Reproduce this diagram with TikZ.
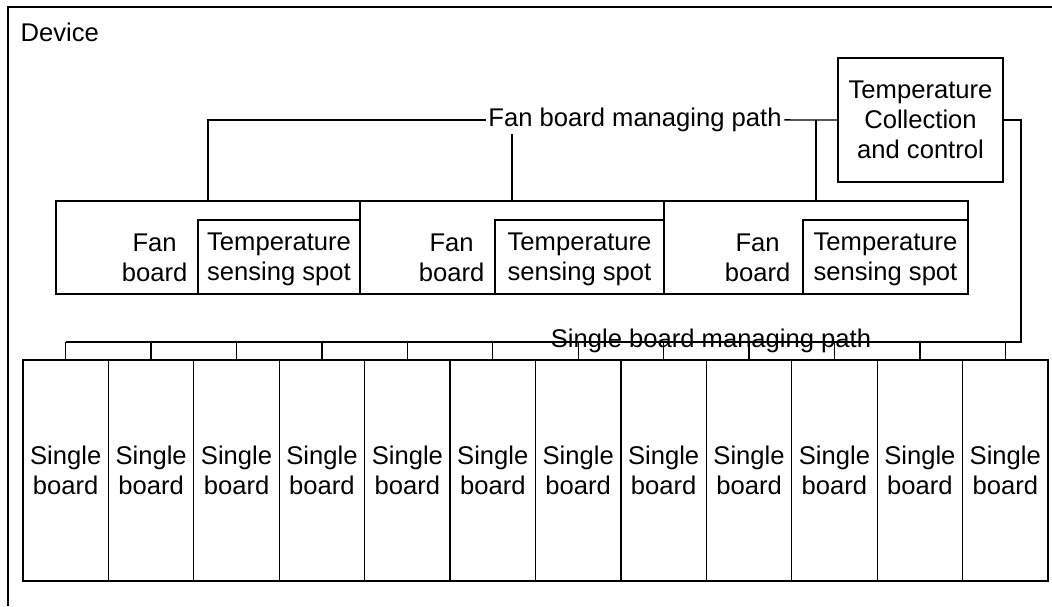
\documentclass[tikz,border=0pt]{standalone}
\usepackage{fontspec}
\setmainfont{Liberation Sans}
\begin{document}
\begin{tikzpicture}[x=1pt,y=-1pt,line width=1.3pt,
  every node/.style={font=\fontsize{25.6}{30}\selectfont,inner sep=0pt},
  boxwh/.style 2 args={draw,rectangle,minimum width=#1,minimum height=#2,align=center},
  lbl/.style={inner sep=2pt,align=center}]
\useasboundingbox (0,0) rectangle (1052,606);
% device frame (cropped)
\draw[line width=2pt] (1052,6.5) -- (8.3,6.5) -- (8.3,606);
\node[anchor=base west] (dev) at (20,41) {Device};
% temperature collection and control
\node[boxwh={165}{124}] (tcc) at (920.5,120) {Temperature\\Collection\\and control};
% fan boards
\node[boxwh={304}{93}] (fb1) at (208,247.5) {};
\node[boxwh={304}{93}] (fb2) at (512,247.5) {};
\node[boxwh={304}{93}] (fb3) at (816,247.5) {};
\node[boxwh={162}{74}] (ts1) at (279,257) {};
\node[boxwh={169}{74}] (ts2) at (579.5,257) {};
\node[boxwh={165}{74}] (ts3) at (885.5,257) {};
\node[align=center] (ts1t) at (279,259.5) {Temperature\\sensing spot};
\node[align=center] (ts2t) at (579.5,259.5) {Temperature\\sensing spot};
\node[align=center] (ts3t) at (885.5,259.5) {Temperature\\sensing spot};
\node[align=center,anchor=east] (fbt1) at (188,257.5) {Fan\\board};
\node[align=center,anchor=east] (fbt2) at (485,257.5) {Fan\\board};
\node[align=center,anchor=east] (fbt3) at (791,257.5) {Fan\\board};
% fan board managing path
\node[lbl,anchor=base] (fanlbl) at (635,126.5) {Fan board managing path};
\draw (fb1.north) |- (fanlbl.west);
\draw (fb2.north) -- (fb2.north |- fanlbl.south);
\draw (fanlbl.east) -- (tcc.west);
\draw (fb3.north) -- (fb3.north |- tcc.west);
% single boards
\foreach \i in {0,...,11}{
  \node[boxwh={85.417}{221}] (sb\i) at ({23+85.417*(\i+0.5)},470.5) {Single\\board};
}
\coordinate (busR) at (1021,342);
\draw (tcc.east) -| (busR) -- (sb0.north |- busR);
\foreach \i in {0,...,11}{
  \draw (sb\i.north) -- (sb\i.north |- busR);
}
\node[lbl,anchor=base] (sblbl) at (711,347) {Single board managing path};
\end{tikzpicture}
\end{document}
